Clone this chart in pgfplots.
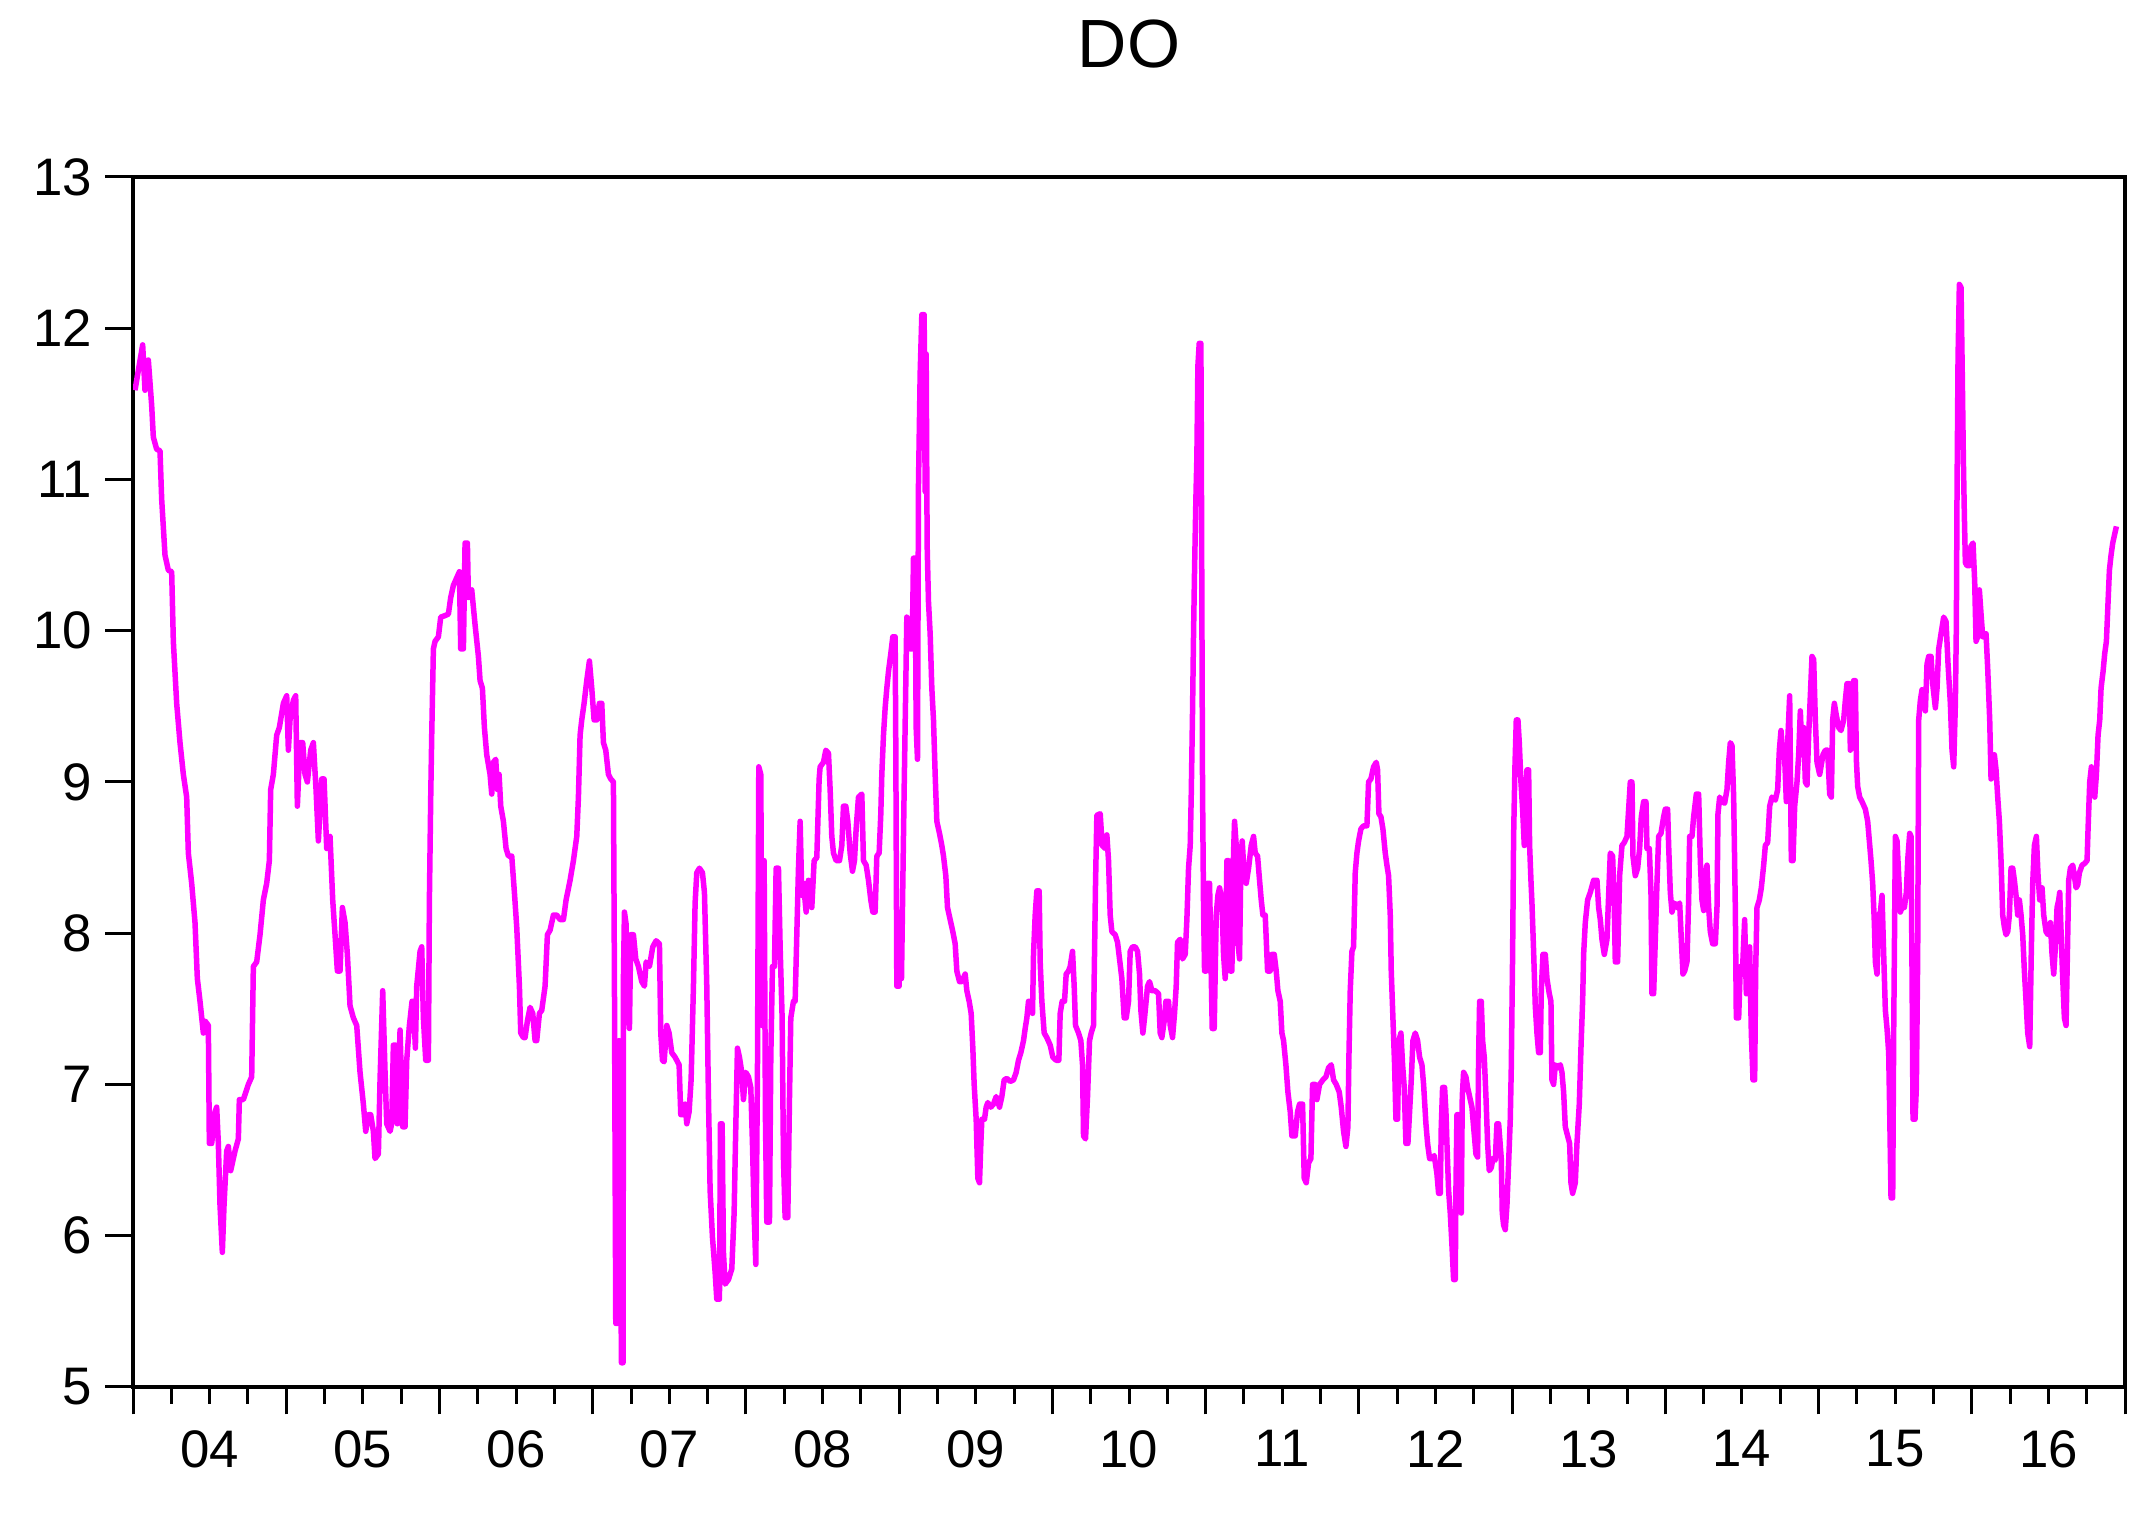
\documentclass[border=0pt]{standalone}
\usepackage{fontspec}
\setmainfont{Liberation Sans}
\usepackage{pgfplots}
\pgfplotsset{compat=1.18}
\definecolor{evmag}{RGB}{255,0,255}
\pgfplotstableread{
x y
6 11.59
29 11.89
36 11.59
46 11.79
56 11.49
61 11.28
71 11.20
81 11.19
86 10.87
96 10.50
106 10.40
116 10.39
121 9.93
131 9.52
141 9.26
151 9.05
161 8.90
166 8.53
176 8.33
186 8.07
193 7.70
201 7.55
211 7.34
216 7.42
226 7.39
229 6.61
236 6.61
246 6.82
251 6.85
256 6.61
261 6.20
268 5.89
273 6.20
281 6.56
286 6.59
293 6.43
306 6.56
316 6.64
319 6.90
331 6.90
346 7.00
356 7.05
361 7.78
371 7.81
381 7.99
391 8.22
401 8.33
409 8.48
413 8.95
421 9.05
431 9.31
439 9.36
451 9.52
461 9.57
466 9.21
471 9.41
481 9.54
488 9.57
493 8.84
501 9.26
509 9.26
516 9.05
523 9.00
533 9.21
541 9.26
549 8.95
556 8.61
566 9.02
573 9.02
581 8.56
591 8.64
599 8.22
606 7.99
613 7.75
621 7.75
628 8.17
636 8.07
643 7.86
651 7.52
661 7.44
671 7.39
681 7.08
691 6.87
698 6.69
706 6.80
713 6.80
721 6.69
726 6.51
736 6.54
741 7.03
749 7.62
756 7.08
761 6.74
771 6.69
776 6.74
781 7.26
788 7.26
793 6.74
801 7.36
809 6.72
816 6.72
821 7.16
829 7.39
837 7.55
841 7.55
847 7.24
851 7.65
861 7.88
866 7.91
871 7.44
878 7.16
886 7.16
889 8.22
893 8.90
896 9.31
901 9.88
906 9.93
916 9.96
923 10.09
936 10.10
946 10.11
953 10.22
961 10.30
971 10.35
979 10.39
983 9.88
991 9.88
996 10.58
1003 10.58
1006 10.22
1016 10.27
1026 10.04
1036 9.83
1041 9.67
1048 9.62
1054 9.36
1061 9.18
1071 9.05
1076 8.92
1081 9.13
1088 9.15
1093 8.95
1098 9.05
1103 8.84
1111 8.74
1119 8.56
1126 8.51
1136 8.51
1144 8.27
1151 8.04
1159 7.65
1163 7.34
1171 7.31
1176 7.31
1183 7.42
1191 7.51
1199 7.47
1206 7.29
1211 7.29
1219 7.47
1226 7.49
1236 7.65
1243 7.99
1251 8.02
1261 8.12
1271 8.12
1281 8.09
1291 8.09
1299 8.22
1311 8.35
1321 8.48
1331 8.64
1336 8.90
1341 9.31
1346 9.41
1353 9.52
1361 9.67
1369 9.80
1376 9.62
1383 9.41
1391 9.41
1399 9.52
1406 9.52
1411 9.26
1418 9.21
1426 9.05
1433 9.02
1441 9.00
1444 7.70
1446 6.51
1448 5.42
1453 5.42
1458 7.29
1461 6.56
1465 5.16
1470 5.16
1471 7.70
1474 8.14
1479 8.06
1483 7.60
1489 7.37
1493 7.99
1501 7.99
1508 7.83
1516 7.78
1526 7.68
1534 7.65
1539 7.81
1549 7.78
1559 7.91
1569 7.95
1579 7.93
1583 7.34
1588 7.16
1593 7.15
1601 7.39
1608 7.34
1616 7.21
1626 7.18
1638 7.13
1643 6.80
1651 6.80
1656 6.87
1661 6.74
1668 6.82
1674 7.03
1681 7.65
1686 8.20
1691 8.40
1699 8.43
1708 8.40
1714 8.27
1721 7.65
1726 6.92
1731 6.30
1738 5.99
1746 5.76
1751 5.58
1759 5.58
1762 6.74
1767 6.74
1771 5.89
1776 5.68
1786 5.71
1796 5.78
1803 6.15
1807 6.61
1813 7.24
1819 7.18
1826 7.08
1831 6.90
1838 7.08
1846 7.05
1853 6.98
1858 6.61
1863 6.15
1868 5.81
1873 7.08
1877 9.10
1883 9.05
1887 7.39
1893 8.48
1897 6.77
1901 6.09
1909 6.09
1913 7.18
1918 7.78
1924 7.78
1929 8.43
1936 8.43
1941 7.91
1947 7.44
1951 6.51
1956 6.12
1964 6.12
1969 6.90
1973 7.44
1981 7.55
1986 7.55
1991 7.99
1996 8.43
2001 8.74
2006 8.25
2011 8.33
2019 8.14
2026 8.35
2036 8.17
2043 8.48
2051 8.50
2058 9.02
2061 9.10
2071 9.13
2078 9.21
2086 9.19
2091 8.95
2096 8.64
2101 8.53
2109 8.48
2119 8.48
2126 8.58
2131 8.84
2138 8.84
2144 8.74
2151 8.53
2158 8.41
2164 8.48
2169 8.69
2176 8.90
2186 8.92
2191 8.48
2199 8.45
2206 8.35
2213 8.22
2219 8.14
2226 8.14
2231 8.51
2238 8.53
2243 8.79
2246 9.05
2251 9.31
2256 9.49
2261 9.62
2266 9.73
2273 9.85
2279 9.96
2286 9.96
2288 9.21
2291 7.65
2298 7.65
2301 8.07
2305 7.70
2309 8.33
2313 8.95
2317 9.52
2321 10.09
2327 10.06
2331 9.88
2337 9.88
2341 10.48
2346 10.48
2349 9.36
2353 9.15
2356 10.97
2361 11.70
2366 12.09
2373 12.09
2376 10.92
2379 11.83
2382 10.56
2386 10.19
2391 9.98
2396 9.62
2401 9.41
2406 9.05
2411 8.74
2419 8.66
2426 8.58
2431 8.51
2438 8.38
2443 8.17
2451 8.09
2459 8.01
2466 7.93
2471 7.75
2479 7.68
2486 7.68
2496 7.73
2501 7.62
2508 7.55
2514 7.47
2519 7.24
2523 7.00
2529 6.77
2534 6.38
2539 6.35
2543 6.61
2546 6.77
2554 6.77
2559 6.85
2564 6.88
2573 6.85
2581 6.87
2589 6.92
2599 6.85
2606 6.92
2613 7.03
2621 7.04
2631 7.02
2641 7.03
2649 7.08
2656 7.16
2663 7.21
2671 7.29
2676 7.37
2681 7.44
2686 7.55
2693 7.55
2698 7.47
2701 7.86
2706 8.12
2711 8.28
2718 8.28
2721 7.81
2726 7.55
2733 7.34
2741 7.31
2751 7.26
2759 7.18
2769 7.16
2777 7.16
2781 7.47
2787 7.55
2794 7.55
2799 7.73
2806 7.75
2811 7.78
2818 7.88
2823 7.65
2827 7.39
2836 7.34
2843 7.29
2848 7.13
2851 6.66
2857 6.64
2863 6.92
2869 7.29
2874 7.34
2881 7.39
2884 7.86
2887 8.33
2891 8.78
2901 8.79
2907 8.58
2916 8.56
2921 8.65
2926 8.48
2931 8.12
2936 8.01
2946 7.99
2953 7.94
2959 7.83
2966 7.70
2973 7.44
2979 7.44
2986 7.55
2991 7.88
2998 7.91
3006 7.91
3013 7.88
3019 7.73
3023 7.49
3029 7.34
3034 7.44
3043 7.65
3049 7.68
3056 7.62
3066 7.62
3076 7.60
3081 7.34
3086 7.31
3093 7.42
3098 7.55
3106 7.55
3111 7.39
3118 7.31
3124 7.47
3129 7.65
3133 7.94
3141 7.96
3148 7.83
3156 7.86
3161 8.09
3166 8.43
3171 8.58
3174 8.90
3178 9.47
3181 9.98
3184 10.40
3188 10.87
3191 11.15
3194 11.75
3198 11.90
3203 11.90
3204 11.44
3206 10.14
3208 8.95
3211 8.17
3214 7.75
3219 7.75
3223 8.33
3229 8.33
3233 7.86
3237 7.37
3243 7.37
3249 8.12
3254 8.25
3259 8.30
3266 8.22
3271 7.86
3276 7.70
3281 8.48
3286 8.48
3291 7.75
3296 7.75
3301 8.53
3304 8.74
3309 8.58
3313 7.96
3319 7.83
3323 8.48
3327 8.61
3333 8.38
3339 8.33
3346 8.43
3354 8.58
3361 8.64
3366 8.53
3373 8.51
3379 8.35
3384 8.22
3389 8.12
3396 8.12
3403 7.75
3411 7.75
3416 7.86
3423 7.86
3429 7.75
3434 7.62
3441 7.55
3446 7.34
3451 7.29
3458 7.13
3464 6.95
3471 6.82
3476 6.66
3486 6.66
3493 6.82
3499 6.87
3508 6.87
3513 6.38
3519 6.35
3526 6.48
3533 6.51
3538 7.00
3546 7.00
3551 6.90
3559 7.00
3569 7.03
3578 7.05
3586 7.11
3594 7.13
3601 7.03
3609 7.00
3618 6.95
3624 6.85
3631 6.69
3638 6.59
3644 6.72
3647 7.18
3651 7.62
3656 7.88
3661 7.91
3666 8.40
3671 8.53
3676 8.61
3683 8.69
3691 8.71
3701 8.71
3706 9.00
3713 9.02
3721 9.10
3729 9.13
3733 9.08
3737 8.79
3743 8.77
3749 8.69
3756 8.53
3761 8.45
3766 8.38
3771 8.12
3774 7.75
3779 7.44
3784 7.13
3788 6.77
3793 6.77
3797 7.29
3803 7.34
3808 7.13
3813 6.98
3818 6.61
3824 6.61
3829 6.82
3834 7.03
3839 7.29
3846 7.34
3853 7.29
3859 7.18
3866 7.13
3871 7.00
3878 6.74
3883 6.61
3889 6.51
3896 6.51
3903 6.53
3911 6.41
3916 6.28
3921 6.28
3924 6.72
3928 6.98
3934 6.98
3938 6.82
3941 6.61
3946 6.30
3951 6.15
3956 5.94
3961 5.71
3966 5.71
3968 6.30
3971 6.80
3976 6.80
3979 6.20
3984 6.15
3987 6.92
3991 7.08
3998 7.05
4003 6.98
4009 6.92
4016 6.85
4021 6.72
4028 6.54
4033 6.52
4036 7.18
4039 7.55
4044 7.55
4048 7.29
4053 7.18
4058 6.92
4063 6.61
4068 6.43
4074 6.45
4079 6.51
4086 6.50
4091 6.74
4096 6.74
4104 6.51
4107 6.15
4111 6.07
4116 6.04
4121 6.20
4126 6.48
4131 6.77
4134 7.11
4138 7.86
4141 8.64
4145 9.10
4149 9.41
4154 9.41
4158 9.26
4163 9.00
4168 8.82
4173 8.58
4176 8.79
4181 9.08
4186 9.08
4189 8.58
4193 8.35
4196 8.20
4201 7.88
4206 7.52
4211 7.34
4216 7.21
4221 7.21
4224 7.62
4229 7.86
4236 7.86
4241 7.70
4248 7.60
4253 7.55
4254 7.37
4256 7.03
4261 7.00
4266 7.13
4273 7.11
4281 7.13
4286 7.08
4291 6.95
4296 6.72
4303 6.66
4309 6.61
4313 6.35
4318 6.28
4326 6.35
4331 6.61
4338 6.87
4343 7.24
4348 7.55
4351 7.86
4356 8.07
4363 8.22
4371 8.27
4381 8.35
4391 8.35
4396 8.17
4401 8.09
4406 7.96
4413 7.86
4421 7.96
4426 8.25
4431 8.53
4438 8.51
4443 8.17
4446 7.81
4453 7.81
4459 8.38
4466 8.58
4473 8.60
4481 8.64
4486 8.82
4491 9.00
4496 9.00
4499 8.51
4506 8.38
4513 8.43
4519 8.56
4524 8.77
4531 8.87
4538 8.87
4541 8.56
4548 8.56
4553 8.27
4556 7.60
4561 7.60
4566 7.96
4571 8.33
4576 8.64
4583 8.66
4591 8.77
4596 8.82
4603 8.82
4606 8.58
4611 8.27
4616 8.14
4623 8.20
4631 8.17
4639 8.20
4644 7.96
4649 7.73
4654 7.75
4661 7.81
4666 8.22
4669 8.64
4676 8.64
4681 8.77
4689 8.92
4696 8.92
4701 8.48
4706 8.22
4711 8.15
4716 8.38
4721 8.45
4726 8.17
4731 8.01
4738 7.93
4746 7.93
4751 8.17
4754 8.79
4759 8.90
4766 8.87
4774 8.86
4781 8.95
4786 9.13
4791 9.26
4796 9.24
4801 8.90
4806 8.17
4809 7.44
4816 7.44
4821 7.78
4828 7.78
4834 8.09
4839 7.60
4844 7.62
4849 7.91
4854 7.34
4859 7.03
4864 7.03
4867 7.75
4871 8.17
4878 8.22
4884 8.30
4891 8.45
4896 8.58
4903 8.60
4909 8.84
4916 8.90
4926 8.88
4933 8.95
4938 9.21
4943 9.34
4949 9.18
4954 9.16
4959 8.87
4964 9.31
4969 9.57
4974 8.48
4979 8.48
4984 8.84
4991 9.00
4996 9.18
5001 9.47
5006 9.18
5011 9.36
5016 9.00
5021 8.98
5026 9.31
5031 9.57
5036 9.83
5041 9.81
5046 9.41
5051 9.13
5059 9.05
5069 9.18
5076 9.21
5083 9.21
5089 8.92
5094 8.90
5098 9.41
5103 9.52
5109 9.44
5116 9.36
5123 9.34
5131 9.41
5136 9.54
5141 9.65
5148 9.65
5151 9.21
5156 9.62
5161 9.67
5166 9.67
5169 9.15
5173 8.97
5179 8.90
5186 8.87
5196 8.82
5203 8.74
5208 8.61
5213 8.48
5218 8.33
5223 8.07
5226 7.81
5231 7.73
5236 8.12
5241 8.14
5246 8.25
5251 7.86
5256 7.49
5261 7.37
5266 7.21
5269 6.82
5273 6.25
5278 6.25
5281 7.34
5286 8.64
5291 8.61
5296 8.38
5301 8.14
5306 8.17
5313 8.17
5319 8.27
5323 8.48
5329 8.66
5333 8.64
5336 7.75
5339 6.77
5345 6.77
5349 6.98
5353 7.86
5356 9.41
5361 9.54
5366 9.61
5371 9.57
5376 9.47
5381 9.78
5386 9.83
5393 9.83
5398 9.65
5406 9.49
5411 9.62
5416 9.88
5423 9.98
5431 10.09
5438 10.06
5444 9.78
5451 9.52
5456 9.21
5461 9.10
5466 9.52
5469 10.04
5471 10.92
5474 11.80
5478 12.29
5483 12.27
5487 11.65
5490 11.13
5493 10.76
5496 10.45
5501 10.43
5508 10.43
5513 10.56
5519 10.58
5524 10.32
5528 9.93
5533 9.96
5538 10.27
5543 10.11
5548 9.96
5553 9.96
5558 9.98
5563 9.75
5569 9.41
5573 9.02
5579 9.05
5583 9.18
5588 9.08
5593 8.90
5598 8.74
5603 8.48
5608 8.12
5613 8.04
5618 7.99
5623 8.01
5628 8.12
5633 8.43
5638 8.43
5643 8.35
5648 8.25
5653 8.12
5658 8.22
5663 8.12
5668 7.99
5673 7.75
5678 7.55
5683 7.34
5689 7.25
5694 7.91
5698 8.33
5703 8.58
5709 8.64
5714 8.38
5719 8.22
5726 8.30
5731 8.12
5738 8.01
5744 7.99
5751 8.07
5756 7.86
5761 7.73
5766 7.91
5771 8.17
5776 8.22
5779 8.27
5783 8.01
5788 7.70
5793 7.44
5798 7.39
5802 7.86
5806 8.35
5811 8.43
5818 8.45
5823 8.38
5828 8.30
5833 8.32
5838 8.40
5846 8.45
5853 8.46
5861 8.48
5864 8.69
5869 9.00
5874 9.10
5879 8.95
5884 8.90
5889 9.05
5894 9.31
5899 9.41
5903 9.62
5909 9.73
5914 9.85
5919 9.93
5923 10.14
5928 10.40
5933 10.50
5938 10.58
5943 10.63
5949 10.69
}\dodata
\begin{document}
\begin{tikzpicture}
\begin{axis}[
  scale only axis,
  width=398.4bp, height=242bp,
  xmin=0, xmax=5974.8, ymin=5, ymax=13,
  axis line style={line width=0.7bp},
  tick style={black, line width=0.6bp},
  tick align=outside,
  xtick pos=lower, ytick pos=left,
  major tick length=5.5bp, minor tick length=3.4bp,
  xtick={0,459.6,919.2,1378.8,1838.4,2298,2757.6,3217.2,3676.8,4136.4,4596,5055.6,5515.2,5974.8},
  xticklabels={},
  minor xtick={114.9,229.8,...,5974},
  extra x ticks={229.8,689.4,1149,1608.6,2068.2,2527.8,2987.4,3447,3906.6,4366.2,4825.8,5285.4,5745},
  extra x tick labels={04,05,06,07,08,09,10,11,12,13,14,15,16},
  extra x tick style={major tick length=0pt, xticklabel style={yshift=-5.2bp}},
  ytick={5,6,...,13},
  yticklabel style={xshift=0.8bp},
  tick label style={font=\fontsize{10.6}{12}\selectfont},
  /pgf/number format/assume math mode=true,
  title={DO},
  title style={font=\fontsize{13.7}{15}\selectfont, at={(0.5,1)}, anchor=center, yshift=20.6bp},
  clip=true,
]
\addplot[color=evmag, line width=1.1bp, line join=round] table[x=x, y=y] {\dodata};
\coordinate (ll) at (rel axis cs:0,0);
\coordinate (ur) at (rel axis cs:1,1);
\end{axis}
\path ([xshift=-26.6bp,yshift=-25.4bp]ll) rectangle ([xshift=5.2bp,yshift=35.4bp]ur);
\end{tikzpicture}
\end{document}
